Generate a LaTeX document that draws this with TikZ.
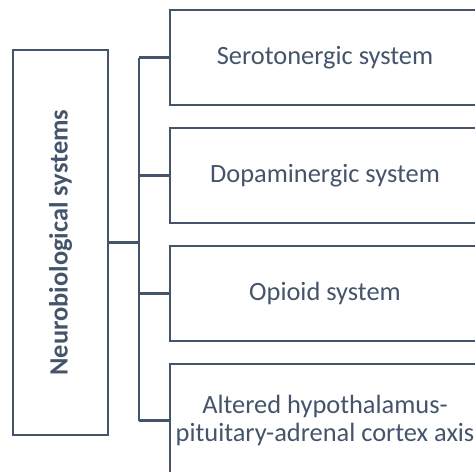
\documentclass[tikz,border=0pt]{standalone}
\usepackage{fontspec}
\setmainfont{Carlito}
\usetikzlibrary{positioning}
\definecolor{slate}{HTML}{44546A}

\begin{document}
\begin{tikzpicture}[x=1pt,y=-1pt,node distance=20.4pt,
 sysbox/.style={draw=slate,line width=2.6pt,minimum width=310pt,minimum height=95pt,align=center,text=slate,inner sep=0pt,font=\fontsize{26.4}{28.5}\selectfont},
 rootbox/.style={draw=slate,line width=2.6pt,minimum width=95pt,minimum height=385pt,inner sep=0pt},
 link/.style={draw=slate,line width=2.6pt}]
\clip (0,0) rectangle (475,472);
\node[rootbox] (root) at (60.5,242.5) {};
\node[rotate=90,text=slate,font=\fontsize{26.4}{30}\selectfont\bfseries] (rootlbl) at (root.center) {Neurobiological systems};
\node[sysbox] (sero) at (325,57.5) {Serotonergic system};
\node[sysbox,below=of sero] (dopa) {Dopaminergic system};
\node[sysbox,below=of dopa] (opio) {Opioid system};
\node[sysbox,below=of opio,minimum height=113pt] (hpa) {Altered hypothalamus-\\pituitary-adrenal cortex axis};
\coordinate (trunk) at (139,242.5);
\draw[link] (root.east) -- (trunk);
\draw[link] (trunk |- sero.west) -- (trunk |- hpa.west);
\foreach \b in {sero,dopa,opio,hpa}
  \draw[link] (trunk |- \b.west) -- (\b.west);
\end{tikzpicture}
\end{document}
